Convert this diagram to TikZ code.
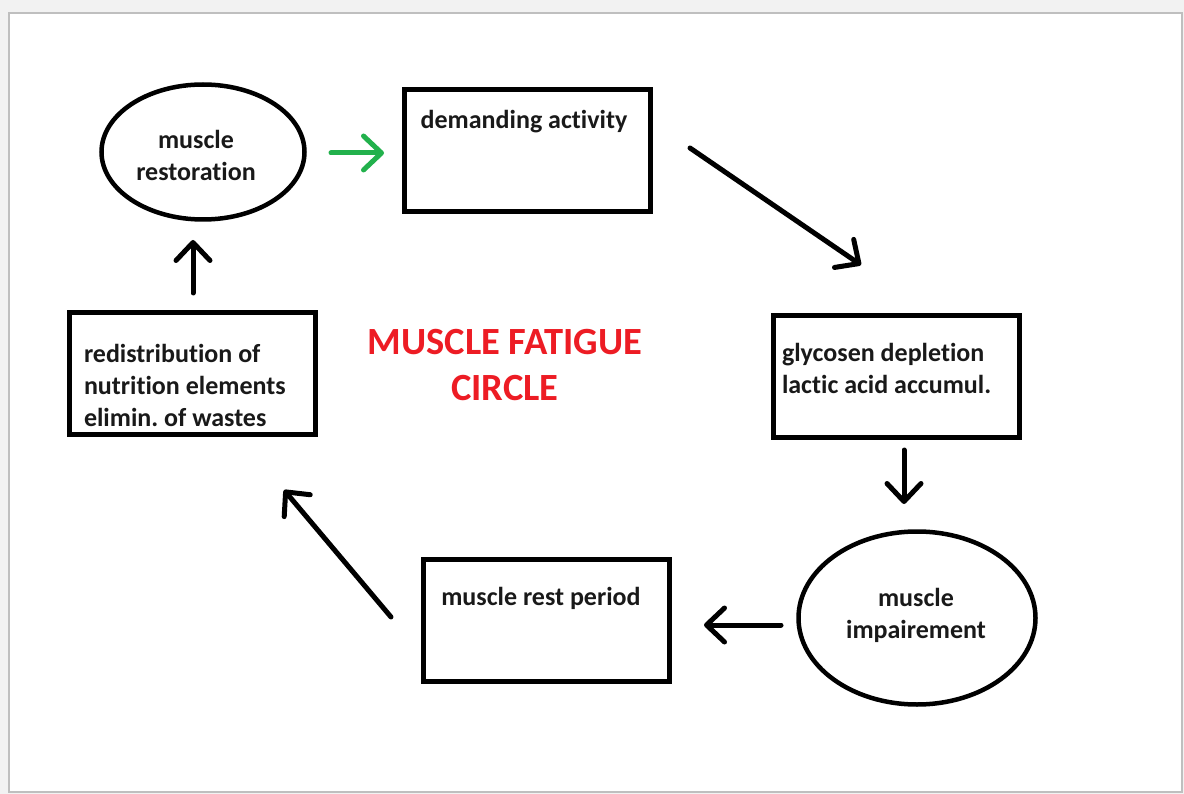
\documentclass[tikz,border=0pt]{standalone}
\usepackage{fontspec}
\setmainfont{Carlito}[Ligatures=NoCommon]
\usetikzlibrary{arrows.meta,shapes.geometric}
\definecolor{titlered}{HTML}{ED1C24}
\definecolor{arrowgreen}{HTML}{22B14C}
\definecolor{pagegray}{HTML}{F2F2F2}
\frenchspacing

\begin{document}
\begin{tikzpicture}[x=1pt,y=-1pt,
  every node/.style={inner sep=0pt, outer sep=0pt},
  stepbox/.style={draw, line width=5pt, rectangle, minimum width=246pt, minimum height=122pt},
  stateoval/.style={draw, line width=4.5pt, ellipse},
  body/.style={font=\fontsize{26}{32}\selectfont\bfseries, text=black!90},
  titletext/.style={font=\fontsize{38.5}{46}\selectfont\bfseries, text=titlered, align=center},
  flow/.style={line width=5pt, line cap=round,
    -{Straight Barb[length=18pt, width=34pt, line width=5pt, round]}},
]
% page and its drop shadow
\fill[pagegray] (0,0) rectangle (1184,794);
\fill[black!25] (8,12) rectangle (1183,793);
\fill[white] (10,14) rectangle (1181,791);
\useasboundingbox (0,0) rectangle (1184,794);

% states (ovals) and steps (boxes)
\node[stateoval, minimum width=203pt, minimum height=135pt] (restore) at (203,152) {};
\node[stepbox] (demand) at (527,151) {};
\node[stepbox] (glyco) at (896.5,376.5) {};
\node[stateoval, minimum width=237pt, minimum height=173pt] (impair) at (917,618) {};
\node[stepbox] (rest) at (546.5,620.5) {};
\node[stepbox] (redist) at (192.5,373.5) {};

% texts
\node[body, align=center] (restoreT) at (196,155) {muscle\\restoration};
\node[body] (demandT) at (524,122) {demanding activity};
\node[body, align=left, anchor=west] (glycoT) at (782,368) {glycosen depletion\\lactic acid accumul.};
\node[body, align=center] (impairT) at (916,615) {muscle\\impairement};
\node[body] (restT) at (541,598) {muscle rest period};
\node[body, align=left, anchor=west] (redistT) at (84,385) {redistribution of\\nutrition elements\\elimin. of wastes};
\node[titletext] (title) at (505,365) {MUSCLE FATIGUE\\CIRCLE};

% arrow end points
\coordinate (g1) at (331,153);   \coordinate (g2) at (384,153);
\coordinate (d1) at (690,148);   \coordinate (d2) at (861,265);
\coordinate (v1) at (904,450);   \coordinate (v2) at (904,504);
\coordinate (h1) at (781,625);   \coordinate (h2) at (704,625);
\coordinate (u1) at (391,617);   \coordinate (u2) at (284,490);
\coordinate (t1) at (193,293);   \coordinate (t2) at (193,240);

% connectors
\draw[flow, arrowgreen] (g1) -- (g2);
\draw[flow] (d1) -- (d2);
\draw[flow] (v1) -- (v2);
\draw[flow] (h1) -- (h2);
\draw[flow] (u1) -- (u2);
\draw[flow] (t1) -- (t2);
\end{tikzpicture}
\end{document}
